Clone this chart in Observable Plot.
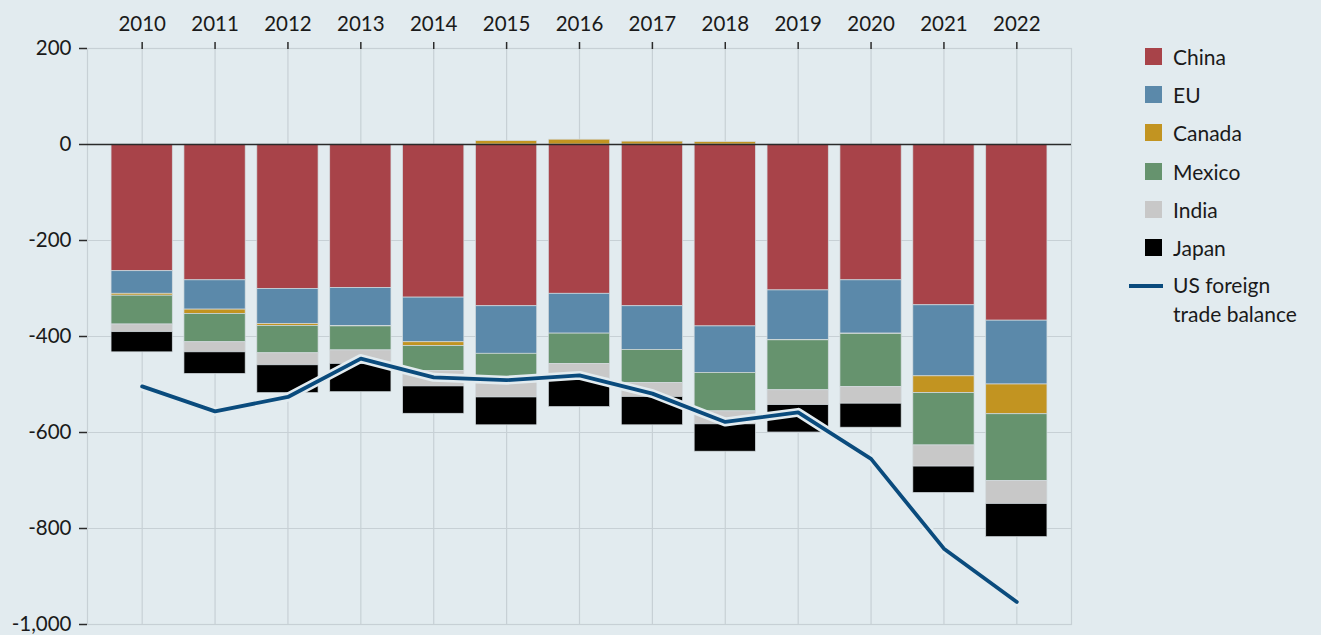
<!DOCTYPE html>
<html>
<head>
<meta charset="utf-8">
<script src="https://cdn.jsdelivr.net/npm/d3@7"></script>
<script src="https://cdn.jsdelivr.net/npm/@observablehq/plot@0.6"></script>
<style>
  html, body { margin: 0; padding: 0; background: #e2ebef; }
  body { width: 1321px; height: 635px; overflow: hidden; position: relative; font-family: Lato, "Noto Sans", sans-serif; }
  #chart { position: absolute; left: 0; top: 0; }
  #legend { position: absolute; left: 1129px; top: 37px; font-size: 21px; color: #1a1a1a; }
  .item { display: flex; align-items: center; height: 38.3px; }
  .sw { width: 17px; height: 17px; margin-left: 16px; margin-right: 11px; }
  .ln { width: 34px; height: 4px; margin-right: 10px; align-self: flex-start; margin-top: 17px; }
  .lt { line-height: 29px; margin-top: 3px; }
</style>
</head>
<body>
<div id="chart"></div>
<div id="legend"></div>
<script>
const years = ["2010","2011","2012","2013","2014","2015","2016","2017","2018","2019","2020","2021","2022"];
const countries = ["China","EU","Canada","Mexico","India","Japan"];
const colors = ["#a84349","#5b89aa","#c29421","#66936e","#c8c8c8","#000000"];
const china  = [-264,-283,-301,-299,-319,-337,-311,-337,-379,-304,-283,-335,-367];
const eu     = [-47,-61,-73,-79,-93,-99,-83,-91,-97,-103,-111,-148,-133];
const canada = [-4,-9,-4,-1,-8,7,10,6,5,-1,-1,-35,-62];
const mexico = [-60,-59,-57,-50,-52,-51,-63,-69,-80,-104,-110,-109,-139];
const india  = [-16,-21,-25,-28,-32,-40,-31,-29,-27,-31,-35,-44,-48];
const japan  = [-42,-45,-58,-59,-57,-58,-59,-59,-57,-57,-50,-55,-69];
const tradeBalance = [-504,-556,-526,-446,-485,-491,-481,-519,-578,-558,-655,-842,-953];
const yTicks = [200,0,-200,-400,-600,-800,-1000];
const lineName = "US foreign trade balance";
const lineColor = "#0a4b7d";
const bg = "#e2ebef";
const gridColor = "#c7d0d5";

const series = [china, eu, canada, mexico, india, japan];
const rows = [];
years.forEach((y, i) => countries.forEach((c, j) => rows.push({year: y, country: c, value: series[j][i]})));
const lineRows = years.map((y, i) => ({year: y, value: tradeBalance[i]}));

const chart = Plot.plot({
  width: 1321,
  height: 635,
  marginLeft: 87,
  marginRight: 250,
  marginTop: 48,
  marginBottom: 11,
  style: {background: "transparent", fontFamily: "Lato, 'Noto Sans', sans-serif", fontSize: "20.5px", color: "#1a1a1a"},
  x: {type: "band", domain: years, paddingInner: 0.16, paddingOuter: 0.33, round: false},
  y: {domain: [-1000, 200]},
  color: {domain: countries, range: colors},
  marks: [
    Plot.frame({stroke: gridColor, strokeWidth: 1.2}),
    Plot.gridY(yTicks, {stroke: gridColor, strokeOpacity: 1, strokeWidth: 1.2}),
    Plot.gridX(years, {stroke: gridColor, strokeOpacity: 1, strokeWidth: 1.2}),
    Plot.barY(rows, Plot.stackY({x: "year", y: "value", fill: "country", stroke: "#d3dbdf", strokeWidth: 0.7})),
    Plot.ruleY([0], {stroke: "#2a2a2a", strokeWidth: 1.5}),
    Plot.line(lineRows, {x: "year", y: "value", stroke: bg, strokeWidth: 9}),
    Plot.line(lineRows, {x: "year", y: "value", stroke: lineColor, strokeWidth: 3.8}),
    Plot.axisX({anchor: "top", tickSize: 7, tickPadding: 11, label: null, fontSize: 20.5, stroke: "#2a2a2a", strokeWidth: 1.5}),
    Plot.axisY({anchor: "left", ticks: yTicks, tickSize: 8, tickPadding: 8, label: null, fontSize: 20.5,
      tickFormat: d => d.toLocaleString("en-US"), line: true, stroke: "#2a2a2a", strokeWidth: 1.5})
  ]
});
document.getElementById("chart").appendChild(chart);

const legend = document.getElementById("legend");
countries.forEach((c, j) => {
  const d = document.createElement("div");
  d.className = "item";
  d.innerHTML = `<span class="sw" style="background:${colors[j]}"></span><span>${c}</span>`;
  legend.appendChild(d);
});
const li = document.createElement("div");
li.className = "item";
li.style.height = "auto";
li.innerHTML = `<span class="ln" style="background:${lineColor}"></span><span class="lt">US foreign<br>trade balance</span>`;
legend.appendChild(li);
</script>
</body>
</html>
